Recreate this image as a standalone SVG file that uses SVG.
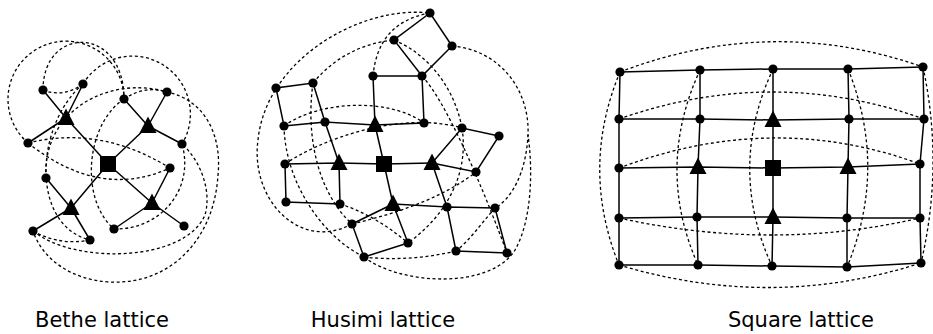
<svg xmlns="http://www.w3.org/2000/svg" xmlns:xlink="http://www.w3.org/1999/xlink" width="933" height="334" viewBox="0 0 933 334">
<style>
.e{stroke:#000;stroke-width:1.5;fill:none}
.d{stroke:#000;stroke-width:1.3;fill:none;stroke-dasharray:3 2.6}
.n{fill:#000}
.t{font-family:"DejaVu Sans",sans-serif;font-size:21px;fill:#000;text-anchor:middle}
</style>
<defs>
<circle id="dot" r="4.6" class="n"/>
<path id="tri" d="M0,-9.5 L8.5,7 L-8.5,7 Z" class="n"/>
<rect id="sq" x="-8" y="-8" width="16" height="16" class="n"/>
</defs>

<!-- ===== Bethe lattice ===== -->
<g id="bethe-connectors">
<g class="d">
<path d="M43,90 Q63,98 83,84"/>
<path d="M124,99 Q145,85 167,92"/>
<path d="M28,143 A58,58 0 1 1 124,99"/>
<path d="M43,90 C43,25 124,25 124,99"/>
<path d="M83,84 A57,57 0 1 1 182,144"/>
<path d="M46,178 C42,110 110,75 167,92 C205,100 222,135 218,175 C214,240 170,285 110,282 C70,280 42,258 33,231"/>
<path d="M28,143 Q100,125 170,168"/>
<path d="M28,143 Q100,200 170,168"/>
<path d="M33,231 Q60,246 90,240"/>
<path d="M33,231 C75,265 185,262 205,215 C212,190 200,160 182,144"/>
<path d="M114,229 C160,230 195,190 182,144"/>
<path d="M83,84 C35,125 30,225 90,240"/>
<path d="M124,99 C85,125 80,200 114,229"/>
</g>
<g class="e">
<path d="M108,164 L66,118 M108,164 L148,126 M108,164 L71,208 M108,164 L152,203"/>
<path d="M66,118 L43,90 M66,118 L83,84 M66,118 L28,143"/>
<path d="M148,126 L124,99 M148,126 L167,92 M148,126 L182,144"/>
<path d="M71,208 L46,178 M71,208 L33,231 M71,208 L90,240"/>
<path d="M152,203 L170,168 M152,203 L114,229 M152,203 L184,226"/>
</g>
</g>
<g id="bethe-nodes">
<use id="b-center" xlink:href="#sq" x="108" y="164"/>
<use id="b-t1" xlink:href="#tri" x="66" y="118"/>
<use id="b-t2" xlink:href="#tri" x="148" y="126"/>
<use id="b-t3" xlink:href="#tri" x="71" y="208"/>
<use id="b-t4" xlink:href="#tri" x="152" y="203"/>
<use xlink:href="#dot" x="43" y="90"/><use xlink:href="#dot" x="83" y="84"/><use xlink:href="#dot" x="28" y="143"/>
<use xlink:href="#dot" x="124" y="99"/><use xlink:href="#dot" x="167" y="92"/><use xlink:href="#dot" x="182" y="144"/>
<use xlink:href="#dot" x="46" y="178"/><use xlink:href="#dot" x="33" y="231"/><use xlink:href="#dot" x="90" y="240"/>
<use xlink:href="#dot" x="170" y="168"/><use xlink:href="#dot" x="114" y="229"/><use xlink:href="#dot" x="184" y="226"/>
</g>

<!-- ===== Husimi lattice ===== -->
<g id="husimi-connectors">
<g class="d">
<path d="M352,224 C300,252 250,200 258,140 C266,60 360,5 430,13"/>
<path d="M313,83 Q345,45 394,40"/>
<path d="M373,76 Q378,22 430,13"/>
<path d="M394,40 C430,55 455,90 462,128"/>
<path d="M422,76 C445,100 480,180 507,253"/>
<path d="M452,46 C500,50 530,90 528,135 C526,175 510,200 495,208 C480,225 470,240 456,251"/>
<path d="M364,257 C400,285 490,290 515,250 C532,220 533,170 528,135"/>
<path d="M284,126 C320,100 390,98 424,123"/>
<path d="M285,164 C320,140 400,110 462,128"/>
<path d="M284,126 C285,180 320,235 364,257"/>
<path d="M313,83 C305,140 320,195 352,224"/>
<path d="M340,204 Q375,215 408,243"/>
<path d="M462,128 C470,180 440,220 408,243"/>
<path d="M352,224 C390,215 440,200 476,172"/>
<path d="M364,257 Q410,262 456,251"/>
</g>
<g class="e">
<path d="M384,164 L339,163 M384,164 L432,163 M384,164 L375,125 M384,164 L393,204"/>
<path d="M375,125 L325,122 L339,163"/>
<path d="M432,163 L447,207 L393,204"/>
<path d="M375,125 L373,76 L422,76 L424,123 Z"/>
<path d="M339,163 L285,164 L286,202 L340,204 Z"/>
<path d="M432,163 L462,128 L499,136 L476,172 Z"/>
<path d="M393,204 L352,224 L364,257 L408,243 Z"/>
<path d="M325,122 L313,83 L276,88 L284,126 Z"/>
<path d="M422,76 L394,40 L430,13 L452,46 Z"/>
<path d="M447,207 L495,208 L507,253 L456,251 Z"/>
</g>
</g>
<g id="husimi-nodes">
<use id="h-center" xlink:href="#sq" x="384" y="164"/>
<use id="h-t1" xlink:href="#tri" x="375" y="125"/>
<use id="h-t2" xlink:href="#tri" x="339" y="163"/>
<use id="h-t3" xlink:href="#tri" x="432" y="163"/>
<use id="h-t4" xlink:href="#tri" x="393" y="204"/>
<use xlink:href="#dot" x="430" y="13"/><use xlink:href="#dot" x="394" y="40"/><use xlink:href="#dot" x="452" y="46"/>
<use xlink:href="#dot" x="422" y="76"/><use xlink:href="#dot" x="373" y="76"/><use xlink:href="#dot" x="424" y="123"/>
<use xlink:href="#dot" x="276" y="88"/><use xlink:href="#dot" x="313" y="83"/><use xlink:href="#dot" x="284" y="126"/>
<use xlink:href="#dot" x="325" y="122"/><use xlink:href="#dot" x="285" y="164"/><use xlink:href="#dot" x="286" y="202"/>
<use xlink:href="#dot" x="340" y="204"/><use xlink:href="#dot" x="462" y="128"/><use xlink:href="#dot" x="499" y="136"/>
<use xlink:href="#dot" x="476" y="172"/><use xlink:href="#dot" x="447" y="207"/><use xlink:href="#dot" x="495" y="208"/>
<use xlink:href="#dot" x="456" y="251"/><use xlink:href="#dot" x="507" y="253"/><use xlink:href="#dot" x="352" y="224"/>
<use xlink:href="#dot" x="408" y="243"/><use xlink:href="#dot" x="364" y="257"/>
</g>

<!-- ===== Square lattice ===== -->
<g id="square-connectors">
<g class="d">
<path d="M620,72 Q772,14 923,67"/>
<path d="M620,72 Q580,168 619,265"/>
<path d="M923,67 Q944,165 921,263"/>
<path d="M619,265 Q772,311 921,263"/>
<path d="M619,119 Q773,65 924,119"/>
<path d="M619,218 Q773,252 920,218"/>
<path d="M619,168 Q773,110 920,164"/>
<path d="M700,70 Q655,168 698,265"/>
<path d="M773,69 Q727,168 772,266"/>
<path d="M848,69 Q888,168 847,267"/>
</g>
<g class="e">
<path d="M620,72 L700,70 L773,69 L848,69 L923,67"/>
<path d="M619,119 L700,119 L773,120 L849,119 L924,119"/>
<path d="M619,168 L698,167 L773,168 L848,167 L920,164"/>
<path d="M619,218 L697,217 L773,217 L847,218 L920,218"/>
<path d="M619,265 L698,265 L772,266 L847,267 L921,263"/>
<path d="M620,72 L619,119 L619,168 L619,218 L619,265"/>
<path d="M700,70 L700,119 L698,167 L697,217 L698,265"/>
<path d="M773,69 L773,120 L773,168 L773,217 L772,266"/>
<path d="M848,69 L849,119 L848,167 L847,218 L847,267"/>
<path d="M923,67 L924,119 L920,164 L920,218 L921,263"/>
</g>
</g>
<g id="square-nodes">
<use id="s-center" xlink:href="#sq" x="773" y="168"/>
<use id="s-t1" xlink:href="#tri" x="773" y="120"/>
<use id="s-t2" xlink:href="#tri" x="698" y="167"/>
<use id="s-t3" xlink:href="#tri" x="848" y="167"/>
<use id="s-t4" xlink:href="#tri" x="773" y="217"/>
<use xlink:href="#dot" x="620" y="72"/><use xlink:href="#dot" x="700" y="70"/><use xlink:href="#dot" x="773" y="69"/><use xlink:href="#dot" x="848" y="69"/><use xlink:href="#dot" x="923" y="67"/>
<use xlink:href="#dot" x="619" y="119"/><use xlink:href="#dot" x="700" y="119"/><use xlink:href="#dot" x="849" y="119"/><use xlink:href="#dot" x="924" y="119"/>
<use xlink:href="#dot" x="619" y="168"/><use xlink:href="#dot" x="920" y="164"/>
<use xlink:href="#dot" x="619" y="218"/><use xlink:href="#dot" x="697" y="217"/><use xlink:href="#dot" x="847" y="218"/><use xlink:href="#dot" x="920" y="218"/>
<use xlink:href="#dot" x="619" y="265"/><use xlink:href="#dot" x="698" y="265"/><use xlink:href="#dot" x="772" y="266"/><use xlink:href="#dot" x="847" y="267"/><use xlink:href="#dot" x="921" y="263"/>
</g>

<g id="labels">
<text class="t" x="102" y="327">Bethe lattice</text>
<text class="t" x="383" y="327">Husimi lattice</text>
<text class="t" x="801" y="327">Square lattice</text>
</g>
</svg>
